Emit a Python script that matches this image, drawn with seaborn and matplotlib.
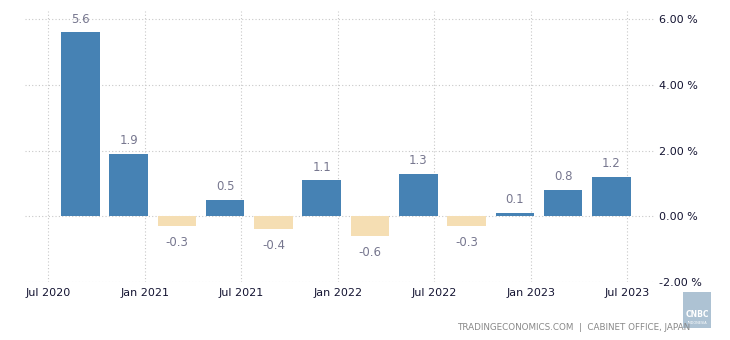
import matplotlib
matplotlib.use("Agg")
import matplotlib.pyplot as plt
import seaborn as sns
import pandas as pd
import numpy as np
from matplotlib.patches import Rectangle

# Data: quarterly GDP growth (QoQ %), bars dated at last month of each quarter
quarters = ["2020-09", "2020-12", "2021-03", "2021-06", "2021-09", "2021-12",
            "2022-03", "2022-06", "2022-09", "2022-12", "2023-03", "2023-06"]
values = [5.6, 1.9, -0.3, 0.5, -0.4, 1.1, -0.6, 1.3, -0.3, 0.1, 0.8, 1.2]
tick_labels = ["Jul 2020", "Jan 2021", "Jul 2021", "Jan 2022", "Jul 2022", "Jan 2023", "Jul 2023"]
tick_months = ["2020-07", "2021-01", "2021-07", "2022-01", "2022-07", "2023-01", "2023-07"]
y_ticks = [-2, 0, 2, 4, 6]

def month_index(s):
    y, m = s.split("-")
    return (int(y) - 2020) * 12 + int(m) - 7

df = pd.DataFrame({
    "month": [month_index(q) for q in quarters],
    "value": values,
})
df["sign"] = np.where(df["value"] >= 0, "pos", "neg")

sns.set_theme(style="white")
plt.rcParams['font.family'] = ['DejaVu Sans']

fig = plt.figure(figsize=(7.3, 3.4), dpi=100)
ax = fig.add_axes([0.034, 0.1706, 0.863, 0.797])

sns.barplot(data=df, x="month", y="value", hue="sign", native_scale=True,
            palette={"pos": "#4682B4", "neg": "#F5DEB3"}, width=0.8,
            legend=False, ax=ax, saturation=1, zorder=3, dodge=False,
            linewidth=0, edgecolor="none")

ax.set_xlim(-1.45, 37.7)
ax.set_ylim(-2, 6.25)

label_color = "#77778f"
for mx, v in zip(df["month"], df["value"]):
    if v >= 0:
        ax.text(mx, v + 0.2, f"{v:.1f}", ha="center", va="bottom", fontsize=8.5,
                color=label_color, clip_on=False)
    else:
        ax.text(mx, v - 0.3, f"{v:.1f}", ha="center", va="top", fontsize=8.5,
                color=label_color, clip_on=False)

ax.set_xticks([month_index(t) for t in tick_months])
ax.set_xticklabels(tick_labels, fontsize=8, color="#141432")
ax.set_yticks(y_ticks)
ax.set_yticklabels([f"{t:.2f} %" for t in y_ticks], fontsize=8, color="#141432")
ax.yaxis.tick_right()
ax.tick_params(axis="both", length=0, pad=4)
ax.tick_params(axis="y", pad=3)
ax.set_xlabel("")
ax.set_ylabel("")

ax.grid(True, which="major", axis="both", color="#c8c8c8", linestyle=(0, (1, 2)), linewidth=0.8, zorder=0)
ax.set_axisbelow(True)
for s in ax.spines.values():
    s.set_visible(False)

fig.text(0.945, 0.038, "TRADINGECONOMICS.COM  |  CABINET OFFICE, JAPAN", ha="right", va="center",
         fontsize=6.3, color="#888888")

# logo approximation
fig.patches.append(Rectangle((0.936, 0.035), 0.038, 0.105, transform=fig.transFigure,
                             facecolor="#9fb8cc", edgecolor="none", alpha=0.85))
fig.text(0.955, 0.075, "CNBC", ha="center", va="center", fontsize=5.5, color="white", fontweight="bold")
fig.text(0.955, 0.05, "INDONESIA", ha="center", va="center", fontsize=2.5, color="white")

fig.savefig("out.png", dpi=100)
